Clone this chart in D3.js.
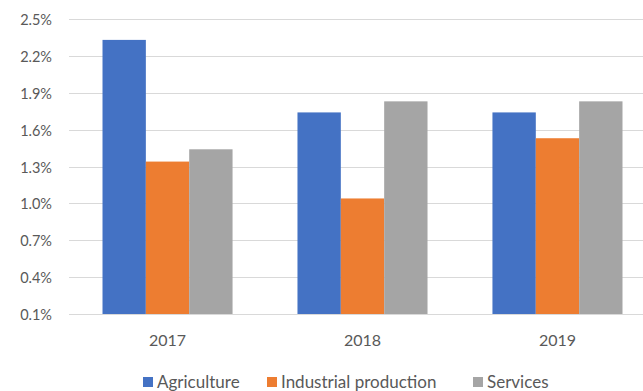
<!DOCTYPE html>
<html>
<head>
<meta charset="utf-8">
<script src="https://cdn.jsdelivr.net/npm/d3@7"></script>
<style>
  body { margin: 0; background: #fff; }
  svg text { font-family: Lato, "Open Sans", sans-serif; fill: #595959; }
</style>
</head>
<body>
<svg id="chart" width="643" height="391"></svg>
<script>
var years = ['2017', '2018', '2019'];
var seriesNames = ['Agriculture', 'Industrial production', 'Services'];
var agriculture = [2.33, 1.74, 1.74];
var industrial = [1.34, 1.04, 1.53];
var services = [1.44, 1.83, 1.83];
var yTicks = [0.1, 0.4, 0.7, 1.0, 1.3, 1.6, 1.9, 2.2, 2.5];
var colors = ['#4472C4', '#ED7D31', '#A5A5A5'];

function drawChart() {
    let svg = d3.select('#chart');
    let seriesVals = [agriculture, industrial, services];

    var x = d3.scaleBand()
            .domain(years)
            .range([70, 655])
            .paddingInner(0.333)
            .paddingOuter(0.1667);
    var xs = d3.scaleBand()
            .domain(seriesNames)
            .range([0, x.bandwidth()]);
    var y = d3.scaleLinear()
            .domain([0.1, 2.5])
            .range([314, 19]);

    // gridlines
    svg.append('g')
        .selectAll('line')
        .data(yTicks)
        .join('line')
        .attr('x1', 69)
        .attr('x2', 643)
        .attr('y1', d => Math.round(y(d)) + 0.5)
        .attr('y2', d => Math.round(y(d)) + 0.5)
        .style('stroke', '#D9D9D9')
        .style('stroke-width', '1.2px');

    // y labels
    svg.append('g')
        .selectAll('text')
        .data(yTicks)
        .join('text')
        .attr('x', 52)
        .attr('y', d => y(d) + 6)
        .attr('text-anchor', 'end')
        .style('font-size', '14.5px')
        .text(d => d3.format('.1f')(d) + '%');

    // bars
    seriesNames.forEach(function(name, si) {
        svg.append('g')
            .selectAll('rect')
            .data(seriesVals[si])
            .join('rect')
            .attr('x', (d, i) => x(years[i]) + xs(name))
            .attr('width', xs.bandwidth())
            .attr('y', d => y(d))
            .attr('height', d => y(0.1) - y(d))
            .style('fill', colors[si]);
    });

    // x labels
    svg.append('g')
        .selectAll('text')
        .data(years)
        .join('text')
        .attr('x', d => x(d) + x.bandwidth() / 2)
        .attr('y', 346)
        .attr('text-anchor', 'middle')
        .style('font-size', '16px')
        .text(d => d);

    // legend
    var legendX = [143, 267, 473];
    var lg = svg.append('g');
    seriesNames.forEach(function(name, i) {
        lg.append('rect')
            .attr('x', legendX[i])
            .attr('y', 377)
            .attr('width', 10)
            .attr('height', 10)
            .style('fill', colors[i]);
        lg.append('text')
            .attr('x', legendX[i] + 14)
            .attr('y', 388)
            .style('font-size', '17px')
            .text(name);
    });
}

drawChart();
</script>
</body>
</html>
